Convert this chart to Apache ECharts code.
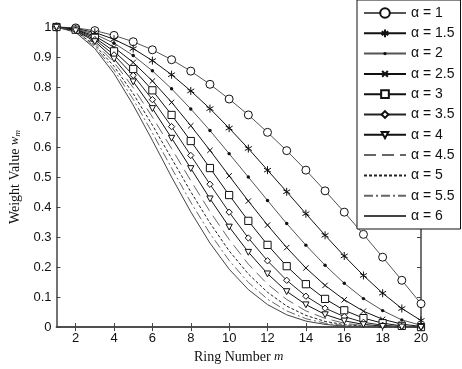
<!DOCTYPE html>
<html>
<head>
<meta charset="utf-8">
<script src="https://cdn.jsdelivr.net/npm/echarts@6/dist/echarts.min.js"></script>
<style>
html, body { margin: 0; padding: 0; background: #fff; }
#chart { width: 462px; height: 369px; }
</style>
</head>
<body>
<div id="chart"></div>
<script>
// ring numbers on the x axis
const ringNumbers = [1, 2, 3, 4, 5, 6, 7, 8, 9, 10, 11, 12, 13, 14, 15, 16, 17, 18, 19, 20];
const xTicks = [2, 4, 6, 8, 10, 12, 14, 16, 18, 20];
const alphaNames = ['α = 1', 'α = 1.5', 'α = 2', 'α = 2.5', 'α = 3', 'α = 3.5', 'α = 4', 'α = 4.5', 'α = 5', 'α = 5.5', 'α = 6'];

// weight values
const wA10 = [1, 0.997, 0.988, 0.972, 0.951, 0.924, 0.891, 0.853, 0.809, 0.760, 0.707, 0.649, 0.588, 0.523, 0.454, 0.383, 0.309, 0.233, 0.156, 0.078];
const wA15 = [1, 0.995, 0.982, 0.959, 0.928, 0.888, 0.841, 0.787, 0.728, 0.663, 0.595, 0.523, 0.451, 0.378, 0.306, 0.237, 0.172, 0.113, 0.062, 0.022];
const wA20 = [1, 0.994, 0.976, 0.946, 0.905, 0.854, 0.794, 0.727, 0.655, 0.578, 0.500, 0.422, 0.345, 0.273, 0.206, 0.146, 0.095, 0.055, 0.024, 0.006];
const wA25 = [1, 0.992, 0.970, 0.932, 0.882, 0.820, 0.749, 0.671, 0.589, 0.504, 0.420, 0.340, 0.265, 0.197, 0.139, 0.091, 0.053, 0.026, 0.010, 0.002];
const wA30 = [1, 0.991, 0.964, 0.919, 0.860, 0.789, 0.707, 0.620, 0.530, 0.440, 0.354, 0.274, 0.203, 0.143, 0.094, 0.056, 0.030, 0.013, 0.004, 0.000];
const wA35 = [1, 0.989, 0.958, 0.907, 0.839, 0.758, 0.668, 0.572, 0.476, 0.383, 0.297, 0.221, 0.156, 0.103, 0.063, 0.035, 0.016, 0.006, 0.002, 0.000];
const wA40 = [1, 0.988, 0.952, 0.894, 0.818, 0.729, 0.630, 0.529, 0.428, 0.334, 0.250, 0.178, 0.119, 0.075, 0.042, 0.021, 0.009, 0.003, 0.001, 0.000];
const wA45 = [1, 0.986, 0.946, 0.882, 0.798, 0.700, 0.595, 0.488, 0.385, 0.292, 0.210, 0.143, 0.092, 0.054, 0.029, 0.013, 0.005, 0.001, 0.000, 0.000];
const wA50 = [1, 0.985, 0.940, 0.869, 0.778, 0.673, 0.562, 0.451, 0.347, 0.254, 0.177, 0.116, 0.070, 0.039, 0.019, 0.008, 0.003, 0.001, 0.000, 0.000];
const wA55 = [1, 0.983, 0.934, 0.857, 0.759, 0.647, 0.530, 0.416, 0.312, 0.222, 0.149, 0.093, 0.054, 0.028, 0.013, 0.005, 0.002, 0.000, 0.000, 0.000];
const wA60 = [1, 0.982, 0.928, 0.845, 0.740, 0.622, 0.500, 0.384, 0.280, 0.193, 0.125, 0.075, 0.041, 0.020, 0.009, 0.003, 0.001, 0.000, 0.000, 0.000];

const allWeights = [wA10, wA15, wA20, wA25, wA30, wA35, wA40, wA45, wA50, wA55, wA60];

// marker paths drawn inside a 10x10 box so small marks keep their size in the legend too
const STAR = 'path://M0,0M10,10M5,1L5,9M1.5,3L8.5,7M1.5,7L8.5,3';
const CROSS = 'path://M0,0M10,10M2,2L8,8M8,2L2,8';
const DOT = 'path://M0,0M10,10M3.3,5A1.7,1.7,0,1,0,6.7,5A1.7,1.7,0,1,0,3.3,5Z';
const DIAMOND = 'path://M0,0M10,10M5,1.5L8.5,5L5,8.5L1.5,5Z';
const TRIDOWN = 'path://M0,0M10,10M1.5,2L8.5,2L5,8.5Z';
const SQUARE = 'path://M0,0M10,10M1,1L9,1L9,9L1,9Z';

// look of each curve (marker, line colour, dash)
const looks = [
    { symbol: 'circle', size: 8, color: '#555', fill: '#fff' },
    { symbol: STAR, size: 10, color: '#111', fill: '#fff' },
    { symbol: DOT, size: 10, color: '#555', fill: '#111', noBorder: true },
    { symbol: CROSS, size: 9, color: '#111', fill: '#fff' },
    { symbol: SQUARE, size: 9, color: '#111', fill: '#fff' },
    { symbol: DIAMOND, size: 9, color: '#222', fill: '#fff' },
    { symbol: TRIDOWN, size: 9, color: '#111', fill: '#fff' },
    { symbol: 'none', color: '#666', dash: [12, 6] },
    { symbol: 'none', color: '#222', dash: [3, 2] },
    { symbol: 'none', color: '#666', dash: [9, 3, 2, 3] },
    { symbol: 'none', color: '#444', dash: 'solid' },
];

const series = alphaNames.map((name, i) => {
    const look = looks[i];
    return {
        name: name,
        type: 'line',
        clip: false,
        symbol: look.symbol,
        symbolSize: look.size || 0,
        showSymbol: look.symbol !== 'none',
        lineStyle: { color: look.color, width: 1, type: look.dash || 'solid' },
        itemStyle: {
            color: look.fill || look.color,
            borderColor: '#111',
            borderWidth: look.noBorder ? 0 : 1,
        },
        emphasis: { disabled: true },
        data: ringNumbers.map((m, k) => [m, allWeights[i][k]]),
    };
});

const legendData = alphaNames.map((name, i) => (
    looks[i].symbol === 'none' ? { name: name, itemStyle: { opacity: 0 } } : { name: name }
));

const axisLine = { show: true, lineStyle: { color: '#444', width: 1.5 } };
const tickStyle = { inside: true, length: 4, lineStyle: { color: '#444', width: 1 } };

const chart = echarts.init(document.getElementById('chart'));
chart.setOption({
    animation: false,
    backgroundColor: '#fff',
    grid: { left: 47, right: 41, top: 27, bottom: 35 },
    legend: {
        orient: 'vertical',
        left: 357,
        top: 0,
        padding: [6, 6, 6, 6],
        itemWidth: 42,
        itemHeight: 12,
        itemGap: 6.3,
        selectedMode: false,
        backgroundColor: '#fff',
        borderColor: '#111',
        borderWidth: 1,
        textStyle: { fontFamily: 'Liberation Sans, Arial, sans-serif', fontSize: 14, color: '#111', lineHeight: 14 },
        data: legendData,
    },
    xAxis: [
        {
            type: 'value',
            min: 1,
            max: 20,
            name: 'Ring Number {i|m}',
            nameLocation: 'middle',
            nameGap: 22,
            nameTextStyle: {
                fontFamily: 'Liberation Serif, Times New Roman, serif',
                fontSize: 14,
                color: '#111',
                rich: { i: { fontStyle: 'italic', fontFamily: 'Liberation Serif, serif', fontSize: 13, color: '#111' } },
            },
            axisLine: axisLine,
            axisTick: Object.assign({ customValues: xTicks }, tickStyle),
            axisLabel: { customValues: xTicks, margin: 5, fontFamily: 'Liberation Sans, Arial, sans-serif', fontSize: 13, color: '#111' },
            splitLine: { show: false },
        },
        {
            type: 'value',
            position: 'top',
            min: 1,
            max: 20,
            axisLine: axisLine,
            axisTick: Object.assign({ customValues: xTicks }, tickStyle),
            axisLabel: { show: false },
            splitLine: { show: false },
        },
    ],
    yAxis: [
        {
            type: 'value',
            min: 0,
            max: 1,
            interval: 0.1,
            name: 'Weight Value {i|w}{s|m}',
            nameLocation: 'middle',
            nameGap: 31,
            nameTextStyle: {
                fontFamily: 'Liberation Serif, Times New Roman, serif',
                fontSize: 14,
                color: '#111',
                rich: {
                    i: { fontStyle: 'italic', fontFamily: 'Liberation Serif, serif', fontSize: 13, color: '#111' },
                    s: { fontStyle: 'italic', fontFamily: 'Liberation Serif, serif', fontSize: 9, color: '#111', verticalAlign: 'bottom', padding: [6, 0, 0, 0] },
                },
            },
            axisLine: axisLine,
            axisTick: tickStyle,
            axisLabel: {
                margin: 5,
                fontFamily: 'Liberation Sans, Arial, sans-serif',
                fontSize: 13,
                color: '#111',
                formatter: (v) => String(Math.round(v * 10) / 10),
            },
            splitLine: { show: false },
        },
        {
            type: 'value',
            position: 'right',
            min: 0,
            max: 1,
            interval: 0.1,
            axisLine: axisLine,
            axisTick: tickStyle,
            axisLabel: { show: false },
            splitLine: { show: false },
        },
    ],
    series: series,
});
</script>
</body>
</html>
